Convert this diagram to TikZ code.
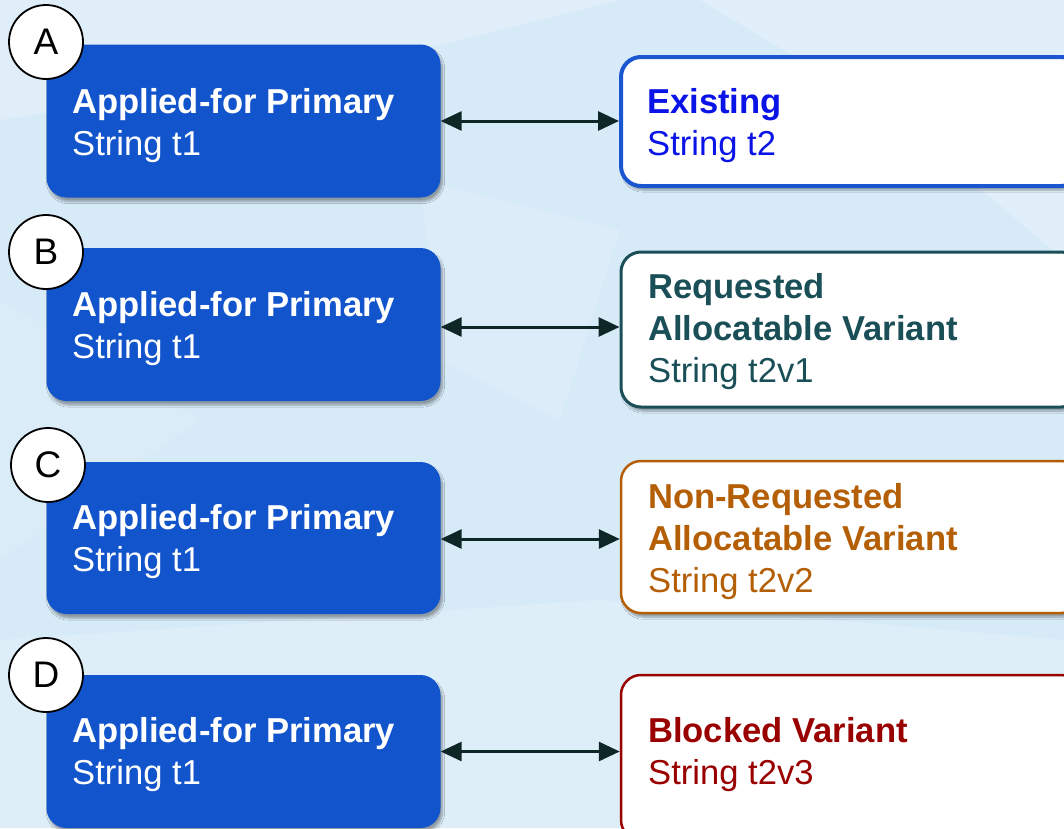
\documentclass[tikz,border=0pt]{standalone}
\usepackage{fontspec}
\setmainfont{Liberation Sans}
\usetikzlibrary{arrows.meta,shadows.blur}
\definecolor{bgblue}{HTML}{D6EAF8}
\definecolor{bglight}{HTML}{E6F2FB}
\definecolor{primblue}{HTML}{1254CC}
\definecolor{exborder}{HTML}{1A56D0}
\definecolor{extext}{HTML}{0A14E6}
\definecolor{reqteal}{HTML}{1B4F58}
\definecolor{nonreq}{HTML}{B45F06}
\definecolor{blocked}{HTML}{990000}
\definecolor{arrowc}{HTML}{0F2626}
\begin{document}
\begin{tikzpicture}[x=1pt,y=-1pt,
  shade/.style={blur shadow={shadow xshift=2pt,shadow yshift=-4pt,shadow blur steps=6,shadow opacity=35}},
  primbox/.style={fill=primblue,rounded corners=20pt,minimum width=394pt,inner sep=0pt,shade},
  varbox/.style={fill=white,line width=3pt,rounded corners=20pt,minimum width=460pt,inner sep=0pt,shade},
  tag/.style={circle,draw=black,line width=1.8pt,fill=white,minimum size=74pt,inner sep=0pt,font=\fontsize{37}{37}\selectfont},
  txt/.style={anchor=base west,inner sep=0pt,font=\fontsize{34.6}{42}\selectfont},
  btxt/.style={txt,font=\fontsize{34.6}{42}\selectfont\bfseries},
  link/.style={{Triangle[length=21pt,width=19pt]}-{Triangle[length=21pt,width=19pt]},line width=3pt,draw=arrowc}
]
\useasboundingbox (0,0) rectangle (1064,828);
\clip (0,0) rectangle (1064,828);
% background
\fill[bgblue] (0,0) rectangle (1064,828);
\fill[bglight,opacity=0.6] (0,0) -- (620,0) -- (380,60) -- (0,120) -- cycle;
\fill[white,opacity=0.25] (700,0) -- (1064,0) -- (1064,260) -- (900,120) -- cycle;
\fill[white,opacity=0.15] (420,180) -- (620,230) -- (560,420) -- (440,360) -- cycle;
\fill[bglight,opacity=0.5] (0,640) -- (600,600) -- (1064,640) -- (1064,828) -- (0,828) -- cycle;
\fill[white,opacity=0.12] (0,300) -- (200,420) -- (0,560) -- cycle;

% left boxes
\node[primbox,minimum height=153pt] (l1) at (243.5,121) {};
\node[primbox,minimum height=153pt] (l2) at (243.5,324.5) {};
\node[primbox,minimum height=152pt] (l3) at (243.5,538) {};
\node[primbox,minimum height=153pt] (l4) at (243.5,751.5) {};

% right boxes
\node[varbox,draw=exborder,line width=4pt,minimum height=129pt] (r1) at (851,121.5) {};
\node[varbox,draw=reqteal,minimum height=155pt] (r2) at (851,329.5) {};
\node[varbox,draw=nonreq,line width=2.5pt,minimum height=152pt] (r3) at (851,537) {};
\node[varbox,draw=blocked,line width=2.5pt,minimum height=165pt] (r4) at (851,757.5) {};

% left texts
\node[btxt,text=white] (l1a) at (72,113) {Applied-for Primary};
\node[txt,text=white] (l1b) at (72,155) {String t1};
\node[btxt,text=white] (l2a) at (72,316) {Applied-for Primary};
\node[txt,text=white] (l2b) at (72,358) {String t1};
\node[btxt,text=white] (l3a) at (72,529) {Applied-for Primary};
\node[txt,text=white] (l3b) at (72,571) {String t1};
\node[btxt,text=white] (l4a) at (72,742) {Applied-for Primary};
\node[txt,text=white] (l4b) at (72,784) {String t1};

% right texts
\node[btxt,text=extext] (r1a) at (647,113) {Existing};
\node[txt,text=extext] (r1b) at (647,155) {String t2};
\node[btxt,text=reqteal] (r2a) at (648,298) {Requested};
\node[btxt,text=reqteal] (r2b) at (648,340) {Allocatable Variant};
\node[txt,text=reqteal] (r2c) at (648,382) {String t2v1};
\node[btxt,text=nonreq] (r3a) at (648,508) {Non-Requested};
\node[btxt,text=nonreq] (r3b) at (648,550) {Allocatable Variant};
\node[txt,text=nonreq] (r3c) at (648,592) {String t2v2};
\node[btxt,text=blocked] (r4a) at (648,742) {Blocked Variant};
\node[txt,text=blocked] (r4b) at (648,784) {String t2v3};

% tags
\node[tag] (ta) at (46,42) {A};
\node[tag] (tb) at (46,252) {B};
\node[tag] (tc) at (48,465) {C};
\node[tag] (td) at (46,675) {D};

% connectors
\draw[link] (l1.east) -- (l1.east -| r1.west);
\draw[link] ([yshift=-2.5pt]l2.east) -- ([yshift=-2.5pt]l2.east -| r2.west);
\draw[link] ([yshift=-1pt]l3.east) -- ([yshift=-1pt]l3.east -| r3.west);
\draw[link] (l4.east) -- (l4.east -| r4.west);
\end{tikzpicture}
\end{document}
